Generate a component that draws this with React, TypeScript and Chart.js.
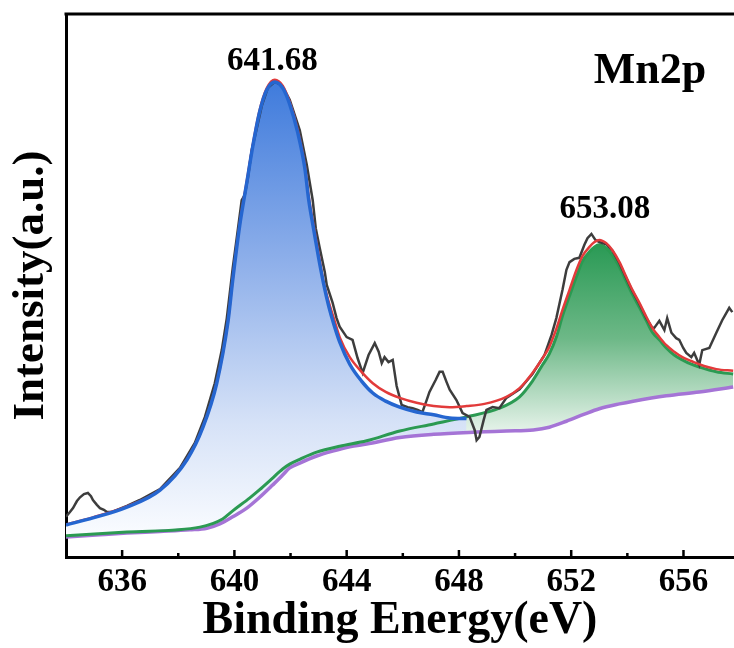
import React, { useEffect, useRef } from 'react';
import { Chart, registerables } from 'chart.js';

Chart.register(...registerables);

const FONT = '"Liberation Serif", "Times New Roman", serif';

// ---- axis settings ----
const xMin = 634;
const xMax = 657.8;
const yMin = 0;
const yMax = 100;
const majorTicks = [636, 640, 644, 648, 652, 656];
const minorTicks = [638, 642, 646, 650, 654];

// ---- background (Shirley-type) ----
const bgEnergy = [634.00, 635.21, 636.17, 637.35, 638.41, 639.02, 639.48, 639.94, 640.44, 640.90, 641.33, 641.72, 641.97, 642.33, 642.93, 643.50, 644.11, 644.71, 645.89, 647.10, 648.63, 649.69, 650.65, 651.22, 651.83, 652.47, 653.00, 653.72, 654.21, 655.39, 656.56, 657.77];
const bgIntensity = [3.7, 4.1, 4.4, 4.7, 5.0, 5.3, 6.1, 7.4, 9.0, 11.0, 13.1, 15.1, 16.4, 17.3, 18.6, 19.5, 20.3, 20.8, 22.0, 22.6, 23.0, 23.2, 23.4, 23.9, 25.0, 26.3, 27.3, 28.2, 28.7, 29.7, 30.4, 31.3];

// ---- Mn 2p3/2 component (+ background) ----
const peak1Energy = [634.00, 634.96, 636.17, 637.35, 638.31, 638.88, 639.37, 639.77, 639.94, 640.19, 640.44, 640.65, 640.90, 641.15, 641.44, 641.72, 641.97, 642.26, 642.51, 642.65, 642.83, 643.00, 643.18, 643.36, 643.54, 643.75, 644.11, 644.53, 644.93, 645.39, 645.89, 646.49, 647.10, 647.67, 648.27];
const peak1Intensity = [5.9, 7.2, 9.2, 12.3, 17.9, 23.9, 32.0, 43.3, 51.0, 61.1, 68.9, 75.5, 82.0, 86.0, 87.5, 86.4, 83.4, 78.1, 71.6, 65.7, 60.2, 55.1, 50.3, 46.2, 42.9, 39.6, 35.5, 32.4, 30.2, 28.7, 27.6, 26.7, 26.2, 25.6, 25.5];

// ---- Mn 2p1/2 component (+ background) ----
const peak2Energy = [634.00, 636.17, 638.77, 639.58, 639.94, 640.55, 640.90, 641.33, 641.72, 641.97, 642.33, 642.93, 643.75, 644.71, 645.89, 647.10, 648.27, 649.44, 650.16, 650.62, 650.98, 651.22, 651.47, 651.69, 651.94, 652.19, 652.40, 652.65, 652.83, 653.00, 653.25, 653.47, 653.72, 653.96, 654.18, 654.43, 654.68, 654.89, 655.14, 655.39, 655.67, 655.96, 656.28, 656.56, 657.17, 657.77];
const peak2Intensity = [3.9, 4.6, 5.5, 7.0, 8.5, 10.9, 12.4, 14.4, 16.2, 17.1, 18.0, 19.3, 20.4, 21.4, 23.2, 24.5, 25.8, 27.4, 29.5, 32.4, 35.4, 37.4, 40.5, 44.4, 48.1, 51.7, 54.5, 56.2, 57.1, 57.5, 56.9, 55.6, 53.4, 50.8, 48.4, 46.0, 43.5, 41.4, 40.0, 38.5, 37.2, 36.3, 35.5, 35.0, 34.1, 33.7];

// ---- envelope (sum of fit) ----
const envEnergy = [634.00, 634.96, 636.17, 637.35, 638.31, 638.88, 639.37, 639.77, 639.94, 640.19, 640.44, 640.65, 640.90, 641.15, 641.44, 641.72, 641.97, 642.26, 642.51, 642.65, 642.83, 643.00, 643.18, 643.36, 643.54, 643.75, 644.11, 644.53, 644.93, 645.39, 645.89, 646.49, 647.10, 647.67, 648.27, 648.91, 649.69, 650.16, 650.62, 650.98, 651.22, 651.47, 651.69, 651.94, 652.19, 652.40, 652.65, 652.83, 653.00, 653.25, 653.47, 653.72, 653.96, 654.18, 654.43, 654.68, 654.89, 655.14, 655.39, 655.67, 655.96, 656.28, 656.56, 657.17, 657.77];
const envIntensity = [6.0, 7.3, 9.3, 12.4, 18.0, 24.0, 32.1, 43.4, 51.2, 61.3, 69.2, 75.8, 82.3, 86.3, 87.9, 86.8, 83.8, 78.6, 72.1, 66.3, 60.8, 55.8, 50.6, 47.0, 44.0, 40.5, 36.8, 34.1, 32.0, 30.4, 29.3, 28.4, 27.8, 27.6, 27.8, 28.2, 29.5, 31.1, 33.9, 36.6, 38.7, 42.0, 45.5, 49.2, 52.9, 55.4, 57.1, 58.0, 58.4, 57.8, 56.5, 54.3, 51.6, 49.2, 46.8, 44.2, 42.2, 40.5, 39.0, 37.8, 36.8, 36.1, 35.5, 34.6, 34.3];

// ---- raw spectrum ----
const rawEnergy = [634.00, 634.14, 634.25, 634.39, 634.50, 634.64, 634.78, 634.89, 634.96, 635.10, 635.21, 635.35, 635.46, 635.64, 636.17, 636.63, 637.35, 638.06, 638.59, 638.95, 639.30, 639.55, 639.73, 639.94, 640.12, 640.26, 640.37, 640.48, 640.62, 640.80, 640.98, 641.19, 641.44, 641.69, 641.97, 642.33, 642.58, 642.79, 642.90, 643.04, 643.22, 643.29, 643.50, 643.64, 643.75, 644.00, 644.21, 644.39, 644.57, 644.78, 645.00, 645.14, 645.25, 645.35, 645.49, 645.64, 645.78, 645.96, 646.17, 646.35, 646.53, 646.70, 646.85, 646.95, 647.17, 647.31, 647.42, 647.56, 647.67, 647.91, 648.13, 648.38, 648.56, 648.63, 648.73, 648.88, 648.98, 649.20, 649.44, 649.69, 650.16, 650.62, 651.05, 651.30, 651.47, 651.69, 651.83, 651.94, 652.11, 652.29, 652.47, 652.58, 652.72, 652.86, 653.00, 653.25, 653.47, 653.72, 653.96, 654.18, 654.43, 654.68, 654.89, 654.96, 655.14, 655.32, 655.42, 655.57, 655.74, 655.85, 655.99, 656.10, 656.28, 656.38, 656.56, 656.67, 656.92, 657.17, 657.38, 657.63, 657.74];
const rawIntensity = [7.4, 8.3, 9.0, 10.3, 11.0, 11.6, 11.8, 11.2, 10.5, 9.6, 9.0, 8.7, 8.3, 8.3, 9.4, 10.5, 12.5, 16.4, 21.0, 25.8, 32.0, 38.1, 44.0, 53.2, 60.2, 65.7, 66.7, 69.8, 75.0, 79.0, 83.2, 86.4, 87.5, 86.9, 84.2, 78.6, 72.2, 65.7, 60.5, 56.9, 52.5, 50.1, 46.8, 44.0, 42.4, 40.5, 40.0, 36.6, 33.9, 37.2, 39.4, 37.8, 35.7, 36.8, 35.9, 36.3, 31.5, 28.0, 27.6, 27.4, 27.1, 26.7, 28.9, 30.4, 32.6, 34.1, 34.1, 32.2, 30.8, 28.9, 26.5, 25.8, 23.4, 21.5, 22.1, 25.2, 27.1, 27.6, 27.4, 29.3, 30.9, 33.7, 37.2, 40.9, 44.0, 49.2, 52.9, 54.3, 54.9, 55.1, 57.5, 58.7, 59.5, 58.4, 58.0, 57.6, 56.4, 54.1, 51.4, 49.0, 46.6, 44.0, 42.2, 42.2, 43.5, 41.8, 44.0, 41.3, 40.3, 40.0, 38.5, 37.6, 36.8, 37.6, 35.4, 38.1, 38.5, 41.3, 43.6, 45.9, 45.1];

// ---- text annotations ----
const peakLabels = ['641.68', '653.08'];
const peakLabelEnergy = [641.35, 653.2];
const peakLabelIntensity = [89.7, 62.4];
const panelLabel = 'Mn2p';
const panelLabelEnergy = 656.81;
const panelLabelIntensity = 87.3;

function pts(xs: number[], ys: number[]) {
  return xs.map((x, i) => ({ x, y: ys[i] }));
}

function gradientFill(chart: any, topVal: number, botVal: number, stops: [number, string][]) {
  const { ctx, chartArea, scales } = chart;
  if (!chartArea) return stops[0][1];
  const y0 = scales.y.getPixelForValue(topVal);
  const y1 = scales.y.getPixelForValue(botVal);
  const g = ctx.createLinearGradient(0, y0, 0, y1);
  stops.forEach(([o, c]) => g.addColorStop(o, c));
  return g;
}

const framePlugin = {
  id: 'frameAndLabels',
  afterDraw(chart: any) {
    const { ctx, chartArea, scales } = chart;
    const { left, right, top, bottom } = chartArea;
    const x = scales.x;
    const y = scales.y;
    ctx.save();
    ctx.strokeStyle = '#000';
    ctx.lineWidth = 3;
    ctx.beginPath();
    ctx.moveTo(left - 1.5, top);
    ctx.lineTo(right + 2, top);
    ctx.stroke();
    ctx.lineWidth = 2.5;
    majorTicks.forEach((v) => {
      const px = x.getPixelForValue(v);
      ctx.beginPath();
      ctx.moveTo(px, bottom);
      ctx.lineTo(px, bottom - 7);
      ctx.stroke();
    });
    minorTicks.forEach((v) => {
      const px = x.getPixelForValue(v);
      ctx.beginPath();
      ctx.moveTo(px, bottom);
      ctx.lineTo(px, bottom - 4);
      ctx.stroke();
    });
    ctx.fillStyle = '#000';
    ctx.textBaseline = 'alphabetic';
    ctx.textAlign = 'center';
    ctx.font = `bold 33px ${FONT}`;
    peakLabels.forEach((t, i) => {
      ctx.fillText(t, x.getPixelForValue(peakLabelEnergy[i]), y.getPixelForValue(peakLabelIntensity[i]));
    });
    ctx.textAlign = 'right';
    ctx.font = `bold 44px ${FONT}`;
    ctx.fillText(panelLabel, x.getPixelForValue(panelLabelEnergy), y.getPixelForValue(panelLabelIntensity));
    ctx.restore();
  },
};

export default function App() {
  const ref = useRef<HTMLCanvasElement>(null);
  useEffect(() => {
    if (!ref.current) return;
    const chart = new Chart(ref.current, {
      type: 'line',
      data: {
        datasets: [
          {
            label: 'Peak 1',
            data: pts(peak1Energy, peak1Intensity),
            borderColor: '#2566d0',
            borderWidth: 3.5,
            pointRadius: 0,
            cubicInterpolationMode: 'monotone',
            fill: { target: 4 },
            backgroundColor: (c: any) =>
              gradientFill(c.chart, Math.max(...peak1Intensity), Math.min(...bgIntensity), [
                [0, '#3f7bdc'],
                [0.4, '#8fb0ea'],
                [0.75, '#d6e2f7'],
                [1, '#fafcff'],
              ]),
          },
          {
            label: 'Envelope',
            data: pts(envEnergy, envIntensity),
            borderColor: '#e23b3b',
            borderWidth: 2.5,
            pointRadius: 0,
            cubicInterpolationMode: 'monotone',
            fill: false,
          },
          {
            label: 'Raw',
            data: pts(rawEnergy, rawIntensity),
            borderColor: '#3d3d3d',
            borderWidth: 2.5,
            pointRadius: 0,
            tension: 0,
            fill: false,
          },
          {
            label: 'Peak 2',
            data: pts(peak2Energy, peak2Intensity),
            borderColor: '#2b9a52',
            borderWidth: 3,
            pointRadius: 0,
            cubicInterpolationMode: 'monotone',
            fill: { target: 4 },
            backgroundColor: (c: any) =>
              gradientFill(c.chart, Math.max(...peak2Intensity), 23, [
                [0, '#2a9a55'],
                [0.5, '#6db887'],
                [1, '#e6f3ea'],
              ]),
          },
          {
            label: 'Background',
            data: pts(bgEnergy, bgIntensity),
            borderColor: '#a574d6',
            borderWidth: 3.5,
            pointRadius: 0,
            cubicInterpolationMode: 'monotone',
            fill: false,
          },
        ],
      },
      options: {
        responsive: false,
        animation: false,
        devicePixelRatio: 1,
        layout: { padding: { top: 14, left: 0, right: 0, bottom: 4 } },
        plugins: {
          legend: { display: false },
          tooltip: { enabled: false },
          filler: { drawTime: 'beforeDatasetsDraw' },
        },
        scales: {
          x: {
            type: 'linear',
            min: xMin,
            max: xMax,
            afterBuildTicks: (scale: any) => {
              scale.ticks = majorTicks.map((v) => ({ value: v }));
            },
            grid: { display: false, drawTicks: false },
            border: { display: true, color: '#000', width: 3 },
            ticks: {
              color: '#000',
              padding: 9,
              maxRotation: 0,
              autoSkip: false,
              font: { family: FONT, size: 33, weight: 'bold', lineHeight: 1 },
              callback: (v: any) => String(v),
            },
            title: {
              display: true,
              text: 'Binding Energy(eV)',
              color: '#000',
              padding: { top: -10, bottom: 0 },
              font: { family: FONT, size: 46, weight: 'bold', lineHeight: 1 },
            },
          },
          y: {
            type: 'linear',
            min: yMin,
            max: yMax,
            grid: { display: false, drawTicks: false },
            border: { display: true, color: '#000', width: 3 },
            ticks: { display: false },
            title: {
              display: true,
              text: 'Intensity(a.u.)',
              color: '#000',
              padding: { top: 9, bottom: 12 },
              font: { family: FONT, size: 45, weight: 'bold', lineHeight: 1 },
            },
          },
        },
      },
      plugins: [framePlugin],
    } as any);
    return () => chart.destroy();
  }, []);
  return (
    <div style={{ position: 'fixed', left: 0, top: 0, width: 734, height: 648, background: '#fff' }}>
      <canvas ref={ref} width={734} height={648} style={{ display: 'block', width: 734, height: 648 }} />
    </div>
  );
}
